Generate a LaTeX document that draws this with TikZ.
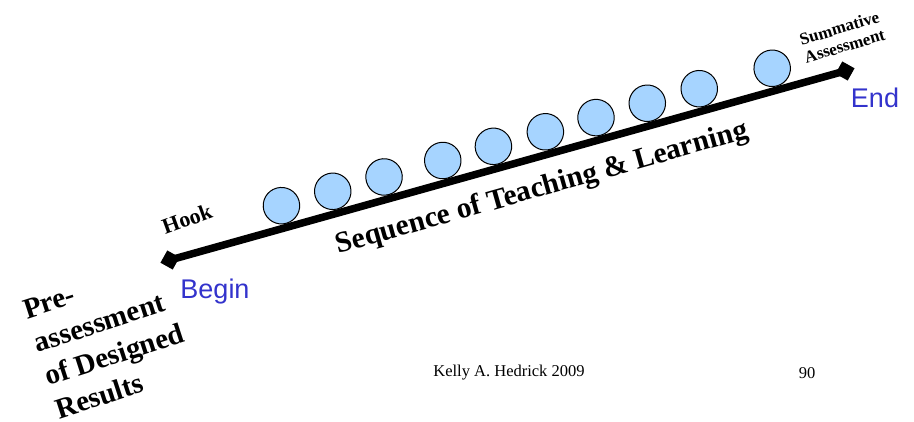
\documentclass[tikz,border=0pt]{standalone}
\usepackage{fontspec}
\setmainfont{Liberation Serif}
\setsansfont{Liberation Sans}
\usetikzlibrary{shapes.geometric}
\definecolor{ballblue}{RGB}{166,212,255}
\definecolor{markblue}{RGB}{51,51,204}

\begin{document}
\begin{tikzpicture}[
      x=1pt,
      y=-1pt,
      track/.style={draw=black, line width=7.5pt},
      endmark/.style={
        diamond,
        fill=black,
        inner sep=0pt,
        minimum size=20pt,
        rotate=15.8
      },
      ball/.style={
        circle,
        draw=black,
        line width=1pt,
        fill=ballblue,
        inner sep=0pt,
        minimum size=36.5pt
      },
      stage/.style={inner sep=0pt, align=center},
      marker/.style={
        font=\sffamily\fontsize{27}{30}\selectfont,
        text=markblue,
        inner sep=0pt
      },
      footer/.style={font=\fontsize{16.5}{19}\selectfont, inner sep=0pt}
    ]
    \useasboundingbox (0,0) rectangle (914,422);

    \node[endmark] (start) at (170,260) {};
    \node[endmark] (finish) at (845,71) {};

    \draw[track] (start.center) -- (finish.center);

    \path (start.center) -- (finish.center)
      foreach \p [count=\i] in
        {0.174,0.250,0.326,0.413,0.488,0.565,0.640,0.716,0.793,0.901}
        {node[ball, pos=\p, sloped, above=3.5pt] (lesson\i) {}};

    \node[stage, rotate=20, font=\bfseries\fontsize{22}{24}\selectfont]
      (hook) at (187,219) {Hook};

    \node[stage, rotate=15.8, font=\bfseries\fontsize{29.5}{32}\selectfont]
      (sequence) at (542,189) {Sequence of Teaching \& Learning};

    \node[stage, rotate=16.6, font=\bfseries\fontsize{17}{18.5}\selectfont]
      (summative) at (842,37) {Summative\\Assessment};

    \node[stage, align=left, rotate=18,
          font=\bfseries\fontsize{29}{35}\selectfont]
      (preassess) at (109,338) {Pre-\\assessment\\of Designed\\Results};

    \node[marker] (begin) at (215,292) {Begin};
    \node[marker] (end) at (875,98) {End};

    \node[footer] (author) at (509,373) {Kelly A. Hedrick 2009};
    \node[footer] (page) at (807,373) {90};
  \end{tikzpicture}
\end{document}
